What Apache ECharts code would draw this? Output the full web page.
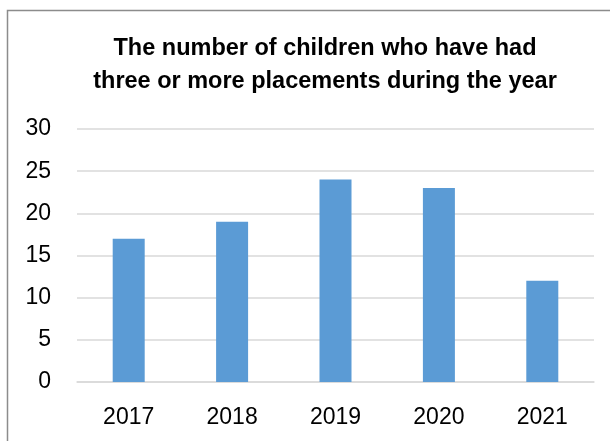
<!DOCTYPE html>
<html><head><meta charset="utf-8">
<script src="https://cdn.jsdelivr.net/npm/echarts@6/dist/echarts.min.js"></script>
<style>html,body{margin:0;padding:0;background:#fff}#c{width:610px;height:441px}</style>
</head><body><div id="c"></div>
<script>
const titleText = 'The number of children who have had\nthree or more placements during the year';
const categories = ['2017', '2018', '2019', '2020', '2021'];
const values = [17, 19, 24, 23, 12];
const chart = echarts.init(document.getElementById('c'));
chart.setOption({
  animation: false,
  backgroundColor: '#fff',
  title: {
    text: titleText, left: 320, top: 27, textAlign: 'center',
    textStyle: {fontFamily: 'Liberation Sans', fontWeight: 'bold', fontSize: 23.5, lineHeight: 33, color: '#000'}
  },
  graphic: [{type: 'rect', shape: {x: 7.5, y: 10.5, width: 800, height: 800}, style: {fill: 'none', stroke: '#8c8c8c', lineWidth: 1.5}, silent: true}],
  grid: {left: 77, right: 16, top: 129, bottom: 59},
  xAxis: {
    type: 'category', data: categories,
    axisLine: {show: true, lineStyle: {color: '#d9d9d9', width: 1.5}},
    axisTick: {show: false},
    axisLabel: {fontFamily: 'Liberation Sans', fontSize: 23, color: '#000', margin: 24}
  },
  yAxis: {
    type: 'value', min: 0, max: 30, interval: 5,
    axisLine: {show: false}, axisTick: {show: false},
    splitLine: {lineStyle: {color: '#d9d9d9', width: 1.5}},
    axisLabel: {fontFamily: 'Liberation Sans', fontSize: 23, color: '#000', margin: 26}
  },
  series: [{type: 'bar', data: values, barWidth: 32, itemStyle: {color: '#5b9bd5'}}]
});
</script></body></html>
